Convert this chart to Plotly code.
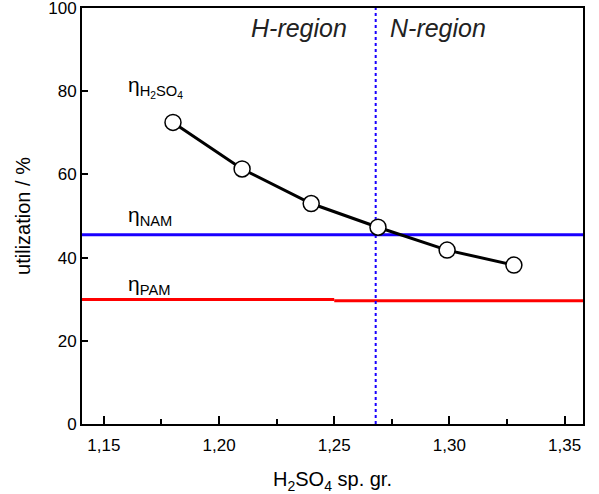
import plotly.graph_objects as go

sp_gr = [1.18, 1.21, 1.24, 1.269, 1.299, 1.328]
eta_h2so4 = [72.5, 61.3, 53.0, 47.3, 41.8, 38.2]
eta_nam = 45.5
eta_pam_left = 29.9
eta_pam_right = 29.6
boundary = 1.268
x_range = [1.1405, 1.358]

fig = go.Figure()
fig.add_trace(go.Scatter(x=[x_range[0], x_range[1]], y=[eta_nam, eta_nam], mode="lines",
                         line=dict(color="#1a00ff", width=3), showlegend=False, hoverinfo="skip"))
fig.add_trace(go.Scatter(x=[x_range[0], 1.25], y=[eta_pam_left, eta_pam_left], mode="lines",
                         line=dict(color="#ff0000", width=3), showlegend=False, hoverinfo="skip"))
fig.add_trace(go.Scatter(x=[1.25, x_range[1]], y=[eta_pam_right, eta_pam_right], mode="lines",
                         line=dict(color="#ff0000", width=3), showlegend=False, hoverinfo="skip"))
fig.add_trace(go.Scatter(x=[boundary, boundary], y=[0, 100], mode="lines",
                         line=dict(color="#1a00ff", width=2, dash="dot"), showlegend=False, hoverinfo="skip"))
fig.add_trace(go.Scatter(x=sp_gr, y=eta_h2so4, mode="lines+markers",
                         line=dict(color="black", width=3),
                         marker=dict(size=16, color="white", line=dict(color="black", width=1.5)),
                         showlegend=False))

fam = "Liberation Sans, Arial, sans-serif"
eta_font = dict(family=fam, size=21, color="black")
fig.add_annotation(x=1.2348, y=95.3, xref="x", yref="y", text="<i>H-region</i>", showarrow=False,
                   font=dict(family=fam, size=25, color="#222"))
fig.add_annotation(x=1.295, y=95.3, xref="x", yref="y", text="<i>N-region</i>", showarrow=False,
                   font=dict(family=fam, size=25, color="#222"))
fig.add_annotation(x=1.1595, y=81, xref="x", yref="y", xanchor="left",
                   text="η<sub>H<sub>2</sub>SO<sub>4</sub></sub>", showarrow=False, font=eta_font)
fig.add_annotation(x=1.1595, y=50, xref="x", yref="y", xanchor="left",
                   text="η<sub>NAM</sub>", showarrow=False, font=eta_font)
fig.add_annotation(x=1.1595, y=33.5, xref="x", yref="y", xanchor="left",
                   text="η<sub>PAM</sub>", showarrow=False, font=eta_font)

fig.update_layout(
    width=599, height=494,
    margin=dict(l=82, r=16, t=8, b=70),
    plot_bgcolor="white", paper_bgcolor="white",
    font=dict(family=fam, size=17, color="black"),
    xaxis=dict(range=x_range, tickvals=[1.15, 1.20, 1.25, 1.30, 1.35],
               ticktext=["1,15", "1,20", "1,25", "1,30", "1,35"],
               ticks="inside", ticklen=8, tickwidth=2, tickcolor="black",
               minor=dict(tickvals=[1.175, 1.225, 1.275, 1.325], ticks="inside", ticklen=5, tickwidth=2, tickcolor="black"),
               showline=True, linecolor="black", linewidth=2, mirror=True,
               showgrid=False, zeroline=False, automargin=False, ticklabeloverflow="allow",
               ticklabelstandoff=5,
               title=dict(text="H<sub>2</sub>SO<sub>4</sub> sp. gr.", standoff=18)),
    yaxis=dict(range=[0, 100], tickvals=[0, 20, 40, 60, 80, 100],
               ticks="inside", ticklen=6, tickwidth=2, tickcolor="black",
               showline=True, linecolor="black", linewidth=2, mirror=True,
               showgrid=False, zeroline=False, automargin=False, ticklabeloverflow="allow",
               title=dict(text="utilization / %", standoff=12)),
)

fig.write_html("out.html", config={"displayModeBar": False},
               post_script="document.body.style.margin='0';document.body.style.overflow='hidden';")
